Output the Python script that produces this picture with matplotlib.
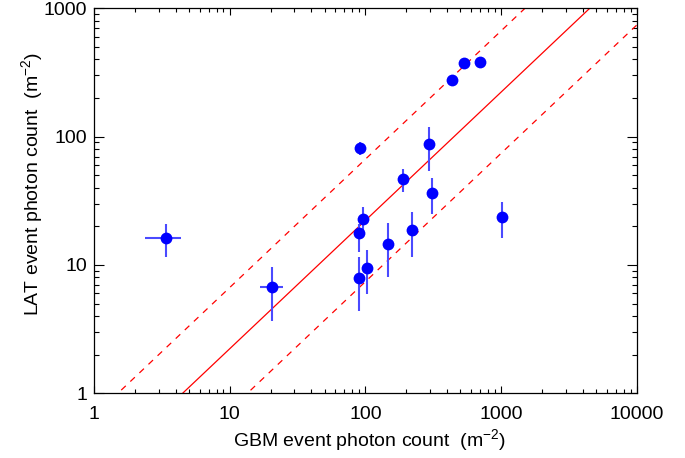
import matplotlib
matplotlib.use("Agg")
import matplotlib.pyplot as plt
import numpy as np

plt.rcParams['font.family'] = ['Liberation Sans', 'DejaVu Sans']
plt.rcParams['mathtext.default'] = 'regular'

# GBM vs LAT photon counts (m^-2)
gbm = [3.39, 20.6, 91.2, 95.5, 89.3, 89.7, 102.3, 147.5, 219, 308, 293, 190, 437, 535, 695, 1020]
gbm_lo = [2.38, 16.8, 91.2, 95.5, 89.3, 89.7, 93.9, 147.5, 219, 308, 293, 190, 437, 535, 695, 1020]
gbm_hi = [4.38, 24.6, 91.2, 95.5, 89.3, 89.7, 112.0, 147.5, 219, 308, 293, 190, 437, 535, 695, 1020]
lat = [16.3, 6.7, 81.2, 22.7, 17.7, 7.96, 9.5, 14.6, 18.6, 36.6, 87.7, 46.5, 278, 373, 380, 23.8]
lat_lo = [11.6, 3.68, 72.0, 18.0, 12.7, 4.4, 5.9, 8.0, 11.6, 25.0, 54.4, 37.3, 278, 373, 380, 16.3]
lat_hi = [20.9, 9.6, 91.4, 28.5, 21.0, 11.6, 13.1, 21.1, 25.8, 47.9, 119.7, 55.7, 278, 373, 380, 31.1]

# ratio lines LAT = GBM / ratio
ratio = 4.5
spread = 3.0

gbm = np.array(gbm)
lat = np.array(lat)
xerr = [gbm - np.array(gbm_lo), np.array(gbm_hi) - gbm]
yerr = [lat - np.array(lat_lo), np.array(lat_hi) - lat]

fig = plt.figure(figsize=(6.85, 4.58), dpi=100)
ax = fig.add_axes([0.1372, 0.1413, 0.9296 - 0.1372, 0.9819 - 0.1413])

xx = np.array([1.0, 10000.0])
ax.plot(xx, xx / ratio, color='red', lw=0.9)
ax.plot(xx, xx / ratio * spread, color='red', lw=0.9, dashes=(5, 5))
ax.plot(xx, xx / ratio / spread, color='red', lw=0.9, dashes=(5, 5))

ax.errorbar(gbm, lat, xerr=xerr, yerr=yerr, fmt='none', ecolor='#4a4aff', elinewidth=1.5, capsize=0)
ax.plot(gbm, lat, 'o', color='#0000ff', markersize=8.5, markeredgewidth=0)

ax.set_xscale('log')
ax.set_yscale('log')
ax.set_xlim(1, 10000)
ax.set_ylim(1, 1000)

ax.set_xticks([1, 10, 100, 1000, 10000])
ax.set_xticklabels(['1', '10', '100', '1000', '10000'])
ax.set_yticks([1, 10, 100, 1000])
ax.set_yticklabels(['1', '10', '100', '1000'])

ax.tick_params(which='both', direction='in', top=True, right=True, width=0.8, colors='black', labelsize=14)
ax.tick_params(axis='x', which='major', length=5, pad=9)
ax.tick_params(axis='x', which='minor', length=2.8)
ax.tick_params(axis='y', which='major', length=7.5, pad=5)
ax.tick_params(axis='y', which='minor', length=3.8)
for s in ax.spines.values():
    s.set_linewidth(0.9)

fig.text(0.540, 1 - 440 / 458, 'GBM event photon count  (m$^{-2}$)', ha='center', va='center', fontsize=14)
fig.text(32 / 685, 1 - 184 / 458, 'LAT event photon count  (m$^{-2}$)', ha='center', va='center',
         rotation=90, fontsize=14)

fig.savefig('out.png', dpi=100)
